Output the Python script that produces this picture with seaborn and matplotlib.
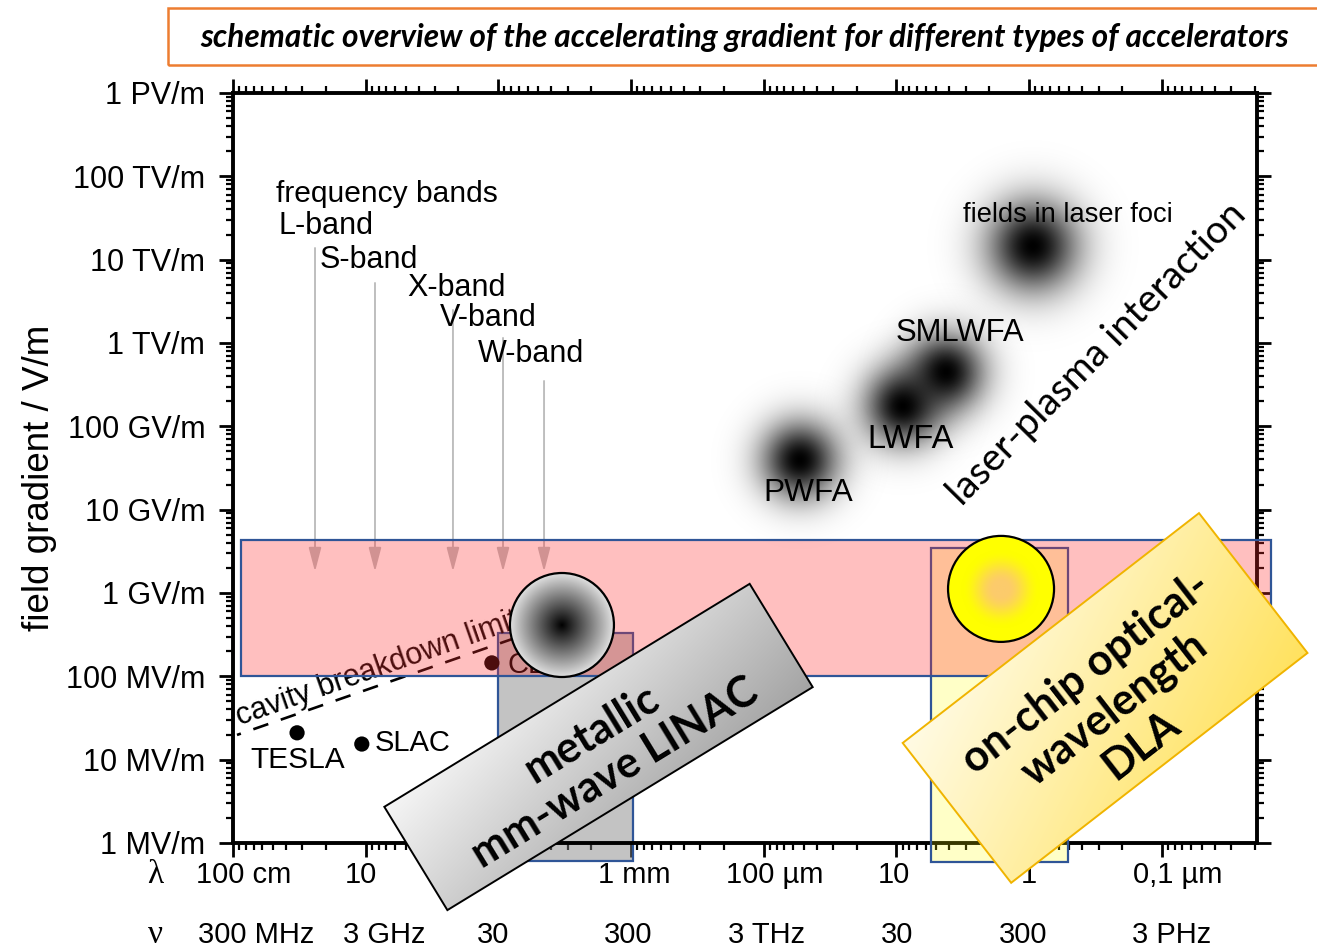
import numpy as np
import matplotlib
matplotlib.use("Agg")
import matplotlib.pyplot as plt
import matplotlib.transforms as mtransforms
from matplotlib.patches import Rectangle, Circle
from matplotlib.ticker import FixedLocator, FixedFormatter, LogLocator, NullFormatter
import seaborn as sns

# axes: wavelength in m (decreasing to the right), field gradient in V/m
lam_ticks = [1e0, 1e-1, 1e-2, 1e-3, 1e-4, 1e-5, 1e-6, 1e-7]
lam_labels = ["100 cm", "10", "", "1 mm", "100 µm", "10", "1", "0,1 µm"]
freq_labels = ["300 MHz", "3 GHz", "30", "300", "3 THz", "30", "300", "3 PHz"]
lam_limits = [1.0, 1.92e-8]

grad_ticks = [1e6, 1e7, 1e8, 1e9, 1e10, 1e11, 1e12, 1e13, 1e14, 1e15]
grad_labels = ["1 MV/m", "10 MV/m", "100 MV/m", "1 GV/m", "10 GV/m",
               "100 GV/m", "1 TV/m", "10 TV/m", "100 TV/m", "1 PV/m"]

# RF frequency bands (arrow wavelength, arrow start, label anchor)
band_names = ["L-band", "S-band", "X-band", "V-band", "W-band"]
band_lam = [0.241, 0.0851, 0.0220, 0.00923, 0.00453]
band_start = [1.38e13, 5.25e12, 2.49e12, 1.15e12, 3.5e11]
band_end = 1.8e9
band_label_lam = [0.458, 0.221, 0.0489, 0.0275, 0.01425]
band_label_grad = [2.54e13, 9.9e12, 4.57e12, 2.0e12, 7.4e11]

# conventional linacs
machine_names = ["TESLA", "SLAC", "CLIC"]
machine_lam = [0.329, 0.107, 0.0112]
machine_grad = [2.1e7, 1.54e7, 1.45e8]
machine_label_lam = [0.324, 0.0851, 8.47e-3]
machine_label_grad = [9.9e6, 1.58e7, 1.37e8]

# cavity breakdown limit
limit_lam = [0.933, 7.5e-3]
limit_grad = [1.98e7, 2.88e8]

# regions
rf_lam = [0.87, 1.5e-8]
rf_grad = [1e8, 4.3e9]
mmwave_lam = [1e-2, 9.7e-4]
mmwave_grad = [6.1e5, 3.3e8]
dla_lam = [5.5e-6, 5.14e-7]
dla_grad = [5.9e5, 3.47e9]

# plasma / laser spots
spot_names = ["PWFA", "LWFA", "SMLWFA", "fields in laser foci"]
spot_lam = [5.33e-5, 8.93e-6, 4.24e-6, 9.36e-7]
spot_grad = [3.95e10, 1.75e11, 4.49e11, 1.46e13]
spot_label_lam = [4.64e-5, 7.9e-6, 3.32e-6, 5.1e-7]
spot_label_grad = [1.58e10, 6.86e10, 1.32e12, 3.44e13]

# working points of the two structure types
mmwave_point = (3.32e-3, 4.13e8)
dla_point = (1.63e-6, 1.12e9)

sns.set_style("ticks")
plt.rcParams["font.family"] = ["Liberation Sans", "DejaVu Sans"]
plt.rcParams["text.color"] = "black"
plt.rcParams["axes.labelcolor"] = "black"
plt.rcParams["xtick.color"] = "black"
plt.rcParams["ytick.color"] = "black"

fig = plt.figure(figsize=(13.17, 9.49), dpi=100)
ax = fig.add_axes([233 / 1317, 106 / 949, 1024 / 1317, 750 / 949])
ax.set_xscale("log")
ax.set_yscale("log")

# cavity breakdown limit and machines
sns.lineplot(x=limit_lam, y=limit_grad, ax=ax, color="black", lw=1.9,
             linestyle=(0, (6, 5)), zorder=2, legend=False)
sns.scatterplot(x=machine_lam, y=machine_grad, ax=ax, color="black", s=120,
                edgecolor="none", zorder=2, legend=False)

ax.set_xlim(lam_limits)
ax.set_ylim(grad_ticks[0], grad_ticks[-1])
ax.set_autoscale_on(False)

ax.text(0.886, 2.6e7, "cavity breakdown limit", fontsize=22, rotation=19.3,
        rotation_mode="anchor", ha="left", va="baseline", zorder=2)
ax.text(machine_label_lam[0], machine_label_grad[0], machine_names[0],
        fontsize=21.5, ha="center", va="center", zorder=2)
for i in (1, 2):
    ax.text(machine_label_lam[i], machine_label_grad[i], machine_names[i],
            fontsize=21, ha="left", va="center", zorder=2)

# frequency band arrows
ax.text(0.474, 6.1e13, "frequency bands", fontsize=21.6, ha="left", va="center")
for name, lam, top, llam, lgrad in zip(band_names, band_lam, band_start,
                                       band_label_lam, band_label_grad):
    ax.annotate("", xy=(lam, band_end), xytext=(lam, top),
                arrowprops=dict(arrowstyle="-|>,head_length=1.45,head_width=0.38",
                                color="#bebebe", lw=1.4, mutation_scale=10,
                                shrinkA=0, shrinkB=0), zorder=1)
    ax.text(llam, lgrad, name, fontsize=22, ha="left", va="center")

# regions
ax.add_patch(Rectangle((mmwave_lam[1], mmwave_grad[0]), mmwave_lam[0] - mmwave_lam[1],
                       mmwave_grad[1] - mmwave_grad[0], fc=(0.5, 0.5, 0.5, 0.47),
                       ec="#2f5597", lw=1.6, zorder=1.6, clip_on=False))
ax.add_patch(Rectangle((dla_lam[1], dla_grad[0]), dla_lam[0] - dla_lam[1],
                       dla_grad[1] - dla_grad[0], fc=(1, 1, 0, 0.22),
                       ec="#2f5597", lw=1.6, zorder=2.6, clip_on=False))
ax.add_patch(Rectangle((rf_lam[1], rf_grad[0]), rf_lam[0] - rf_lam[1],
                       rf_grad[1] - rf_grad[0], fc=(1, 45 / 255, 45 / 255, 0.3),
                       ec="#2f5597", lw=1.6, zorder=3, clip_on=False))


def anchored(x, y, angle=0):
    return (mtransforms.Affine2D().rotate_deg(angle)
            + mtransforms.ScaledTranslation(x, y, ax.transData))


def rgba(rgb):
    return np.dstack([rgb, np.ones(rgb.shape[:2])])


def shaded_disc(x, y, r, colour_of, z):
    tr = anchored(x, y)
    disc = Circle((0, 0), r, transform=tr, fc="none", ec="black", lw=1.6, zorder=z + 0.1)
    ax.add_patch(disc)
    g = np.linspace(-1, 1, 201)
    rr = np.clip(np.hypot(*np.meshgrid(g, g)), 0, 1)
    im = ax.imshow(rgba(colour_of(rr)), extent=(-r, r, -r, r), transform=tr,
                   origin="lower", aspect="auto", interpolation="bilinear", zorder=z)
    im.set_clip_path(disc)


def grey_shade(rr):
    v = 0.88 * rr
    return np.dstack([v, v, v])


def yellow_shade(rr):
    t = np.clip((rr - 0.12) / 0.62, 0, 1)
    t = (t * t * (3 - 2 * t))[..., None]
    c0 = np.array([252, 203, 108]) / 255
    c1 = np.array([255, 255, 0]) / 255
    return c0 + (c1 - c0) * t


def glow(x, y, sigma, z):
    tr = anchored(x, y)
    R = 4 * sigma
    g = np.linspace(-R, R, 161)
    xx, yy = np.meshgrid(g, g)
    img = np.zeros((161, 161, 4))
    img[..., 3] = np.exp(-(xx ** 2 + yy ** 2) / (2 * sigma ** 2))
    ax.imshow(img, extent=(-R, R, -R, R), transform=tr, origin="lower",
              aspect="auto", interpolation="bilinear", zorder=z)


def label_box(x, y, w, h, angle, c0, c1, edge, z):
    tr = anchored(x, y, angle)
    u, v = np.meshgrid(np.linspace(0, 1, 64), np.linspace(0, 1, 64))
    t = ((u + (1 - v)) / 2)[..., None]
    c0, c1 = np.array(c0) / 255, np.array(c1) / 255
    ax.imshow(rgba(c0 + (c1 - c0) * t), extent=(-w / 2, w / 2, -h / 2, h / 2),
              transform=tr, origin="lower", aspect="auto", interpolation="bilinear",
              zorder=z, clip_on=False)
    ax.add_patch(Rectangle((-w / 2, -h / 2), w, h, transform=tr, fc="none", ec=edge,
                           lw=1.4, zorder=z + 0.1, clip_on=False))


shaded_disc(*mmwave_point, 52, grey_shade, 4)
shaded_disc(*dla_point, 53, yellow_shade, 4)

for i, (lam, grad) in enumerate(zip(spot_lam, spot_grad)):
    glow(lam, grad, 32 if i == 3 else 27, 4)
spot_size = [22.8, 23.5, 22.4, 19.6]
for name, lam, grad, fs in zip(spot_names, spot_label_lam, spot_label_grad, spot_size):
    ax.text(lam, grad, name, fontsize=fs, ha="center", va="center", zorder=5)

ax.text(3.08e-7, 7.4e11, "laser-plasma interaction", family="Lato", fontsize=28,
        rotation=45.5, rotation_mode="anchor", ha="center", va="center", zorder=5)

label_box(1.76e-3, 1.42e7, 428, 121, 31.4, (245, 245, 245), (165, 165, 165), "black", 6)
ax.text(1.63e-3, 1.2e7, "metallic\nmm-wave LINAC", family="Lato", weight="bold",
        fontsize=31, rotation=31.4, rotation_mode="anchor", ha="center", va="center",
        multialignment="center", linespacing=1.15, zorder=6.5)

label_box(2.68e-7, 5.5e7, 375, 177, 37.8, (255, 251, 228), (255, 226, 95), "#f0b400", 6)
ax.text(2.3e-7, 4.06e7, "on-chip optical-\nwavelength\nDLA", family="Lato",
        weight="bold", fontsize=31, rotation=37.8, rotation_mode="anchor",
        ha="center", va="center", multialignment="center", linespacing=1.15,
        zorder=6.5)

# ticks and spines
ax.xaxis.set_major_locator(FixedLocator(lam_ticks))
ax.xaxis.set_minor_locator(LogLocator(base=10, subs=np.arange(2, 10), numticks=100))
ax.xaxis.set_major_formatter(NullFormatter())
ax.xaxis.set_minor_formatter(NullFormatter())
ax.yaxis.set_major_locator(FixedLocator(grad_ticks))
ax.yaxis.set_major_formatter(FixedFormatter(grad_labels))
ax.yaxis.set_minor_locator(LogLocator(base=10, subs=np.arange(2, 10), numticks=100))
ax.yaxis.set_minor_formatter(NullFormatter())
ax.tick_params(which="both", direction="out", top=True, right=True, color="black")
ax.tick_params(which="major", length=10, width=2)
ax.tick_params(which="minor", length=5, width=1.6)
ax.tick_params(axis="y", labelsize=22, pad=10, labelcolor="black")
for s in ax.spines.values():
    s.set_linewidth(2.8)
    s.set_color("black")

ax.set_ylabel("field gradient / V/m", fontsize=26.5, color="black")
ax.yaxis.set_label_coords(-0.172, 0.487)

lam_dx = [11, -5, 0, 3, 11, -3, 0, 16]
freq_dx = [23, 19, -5, -3, 3, 1, -6, 10]
for lam, lab, dx in zip(lam_ticks, lam_labels, lam_dx):
    ax.annotate(lab, xy=(lam, 0), xycoords=("data", "axes fraction"), xytext=(dx, -32),
                textcoords="offset pixels", ha="center", va="center", fontsize=21,
                zorder=3, annotation_clip=False)
for lam, lab, dx in zip(lam_ticks, freq_labels, freq_dx):
    ax.annotate(lab, xy=(lam, 0), xycoords=("data", "axes fraction"), xytext=(dx, -92),
                textcoords="offset pixels", ha="center", va="center", fontsize=21,
                zorder=3, annotation_clip=False)
fig.text(155 / 1317, 1 - 875 / 949, "λ", family="Liberation Serif", fontsize=24,
         ha="center", va="center")
fig.text(155 / 1317, 1 - 935 / 949, "ν", family="Liberation Serif", fontsize=24,
         ha="center", va="center")

# title box
fig.add_artist(Rectangle((168 / 1317, 1 - 65 / 949), 1.0, 57 / 949,
                         transform=fig.transFigure, fill=False, ec="#ed7d31", lw=1.8))
fig.text(745 / 1317, 1 - 37 / 949,
         "schematic overview of the accelerating gradient for different types of accelerators",
         family="Lato", weight="bold", style="italic", fontsize=22.8,
         ha="center", va="center")

fig.savefig("out.png", dpi=100)
